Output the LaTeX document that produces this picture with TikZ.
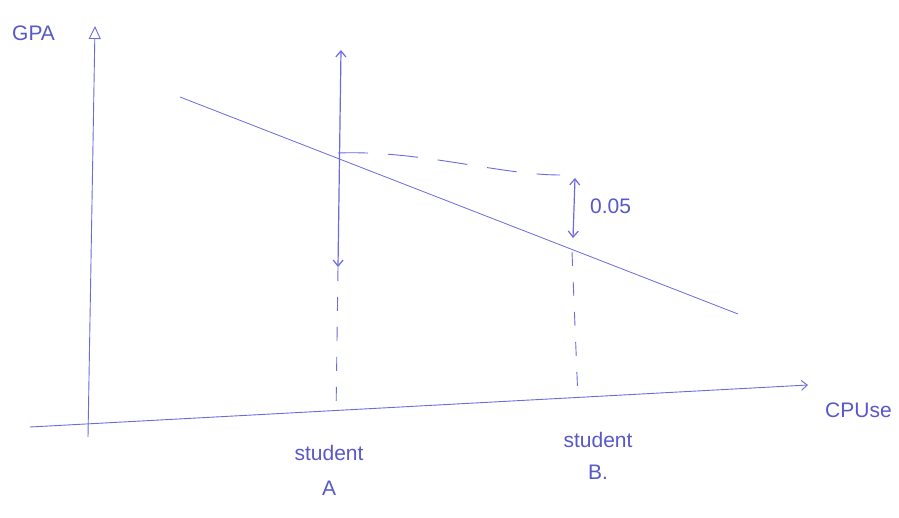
\documentclass[tikz,border=0pt]{standalone}
\usepackage{fontspec}
\setmainfont{Liberation Sans}
\usetikzlibrary{arrows.meta}
\definecolor{pen}{HTML}{6B6BDD}
\definecolor{ink}{HTML}{5858C8}
\tikzset{
  axisline/.style={draw=pen,line width=0.9pt},
  fitline/.style={draw=pen,line width=0.8pt},
  guide/.style={draw=pen,line width=0.9pt,dash pattern=on 14pt off 16pt},
  dimarrow/.style={draw=pen,line width=1.2pt,{Straight Barb[length=6pt,width=10pt]}-{Straight Barb[length=6pt,width=10pt]}},
  lbl/.style={inner sep=0pt,text=ink,font=\fontsize{21.0}{25.2}\selectfont}
}
\begin{document}
\begin{tikzpicture}[x=1pt,y=-1pt]
\path[use as bounding box,fill=white] (0,0) rectangle (899.0,518.0);
% axes
\coordinate (yfoot) at (88,437);
\coordinate (ytip) at (95,26);
\coordinate (xfoot) at (30,427);
\coordinate (xtip) at (808,385);
\draw[axisline,-{Triangle[open,length=13pt,width=12pt]}] (yfoot) -- (ytip);
\draw[axisline,-{Straight Barb[length=6pt,width=10pt]}] (xfoot) -- (xtip);
\node[lbl,anchor=west] (gpa) at (12,33) {GPA};
\node[lbl,anchor=west] (cpuse) at (825,410) {CPUse};
% fitted line
\coordinate (fitstart) at (180,97);
\coordinate (fitend) at (738,314);
\draw[fitline] (fitstart) -- (fitend);
% student A
\coordinate (aup) at (341,50);
\coordinate (apoint) at (338,153);
\coordinate (adown) at (338,267);
\coordinate (abase) at (336,415);
\draw[dimarrow] (adown) -- (aup);
\draw[guide] (adown) -- (abase);
\node[lbl] (studa) at (329,453) {student};
\node[lbl] (labela) at (329,488) {A};
% student B
\coordinate (bdash) at (560,175);
\coordinate (btop) at (575,178);
\coordinate (bpoint) at (573,238);
\coordinate (bline) at (572,252);
\coordinate (bbase) at (578,400);
\draw[guide,dash pattern=on 30pt off 20pt] (apoint) .. controls (420,150) and (500,175) .. (bdash);
\draw[dimarrow] (btop) -- (bpoint);
\draw[guide] (bline) -- (bbase);
\node[lbl,anchor=west] (diff) at (590,206) {0.05};
\node[lbl] (studb) at (598,440) {student};
\node[lbl] (labelb) at (598,472) {B.};
\end{tikzpicture}
\end{document}
